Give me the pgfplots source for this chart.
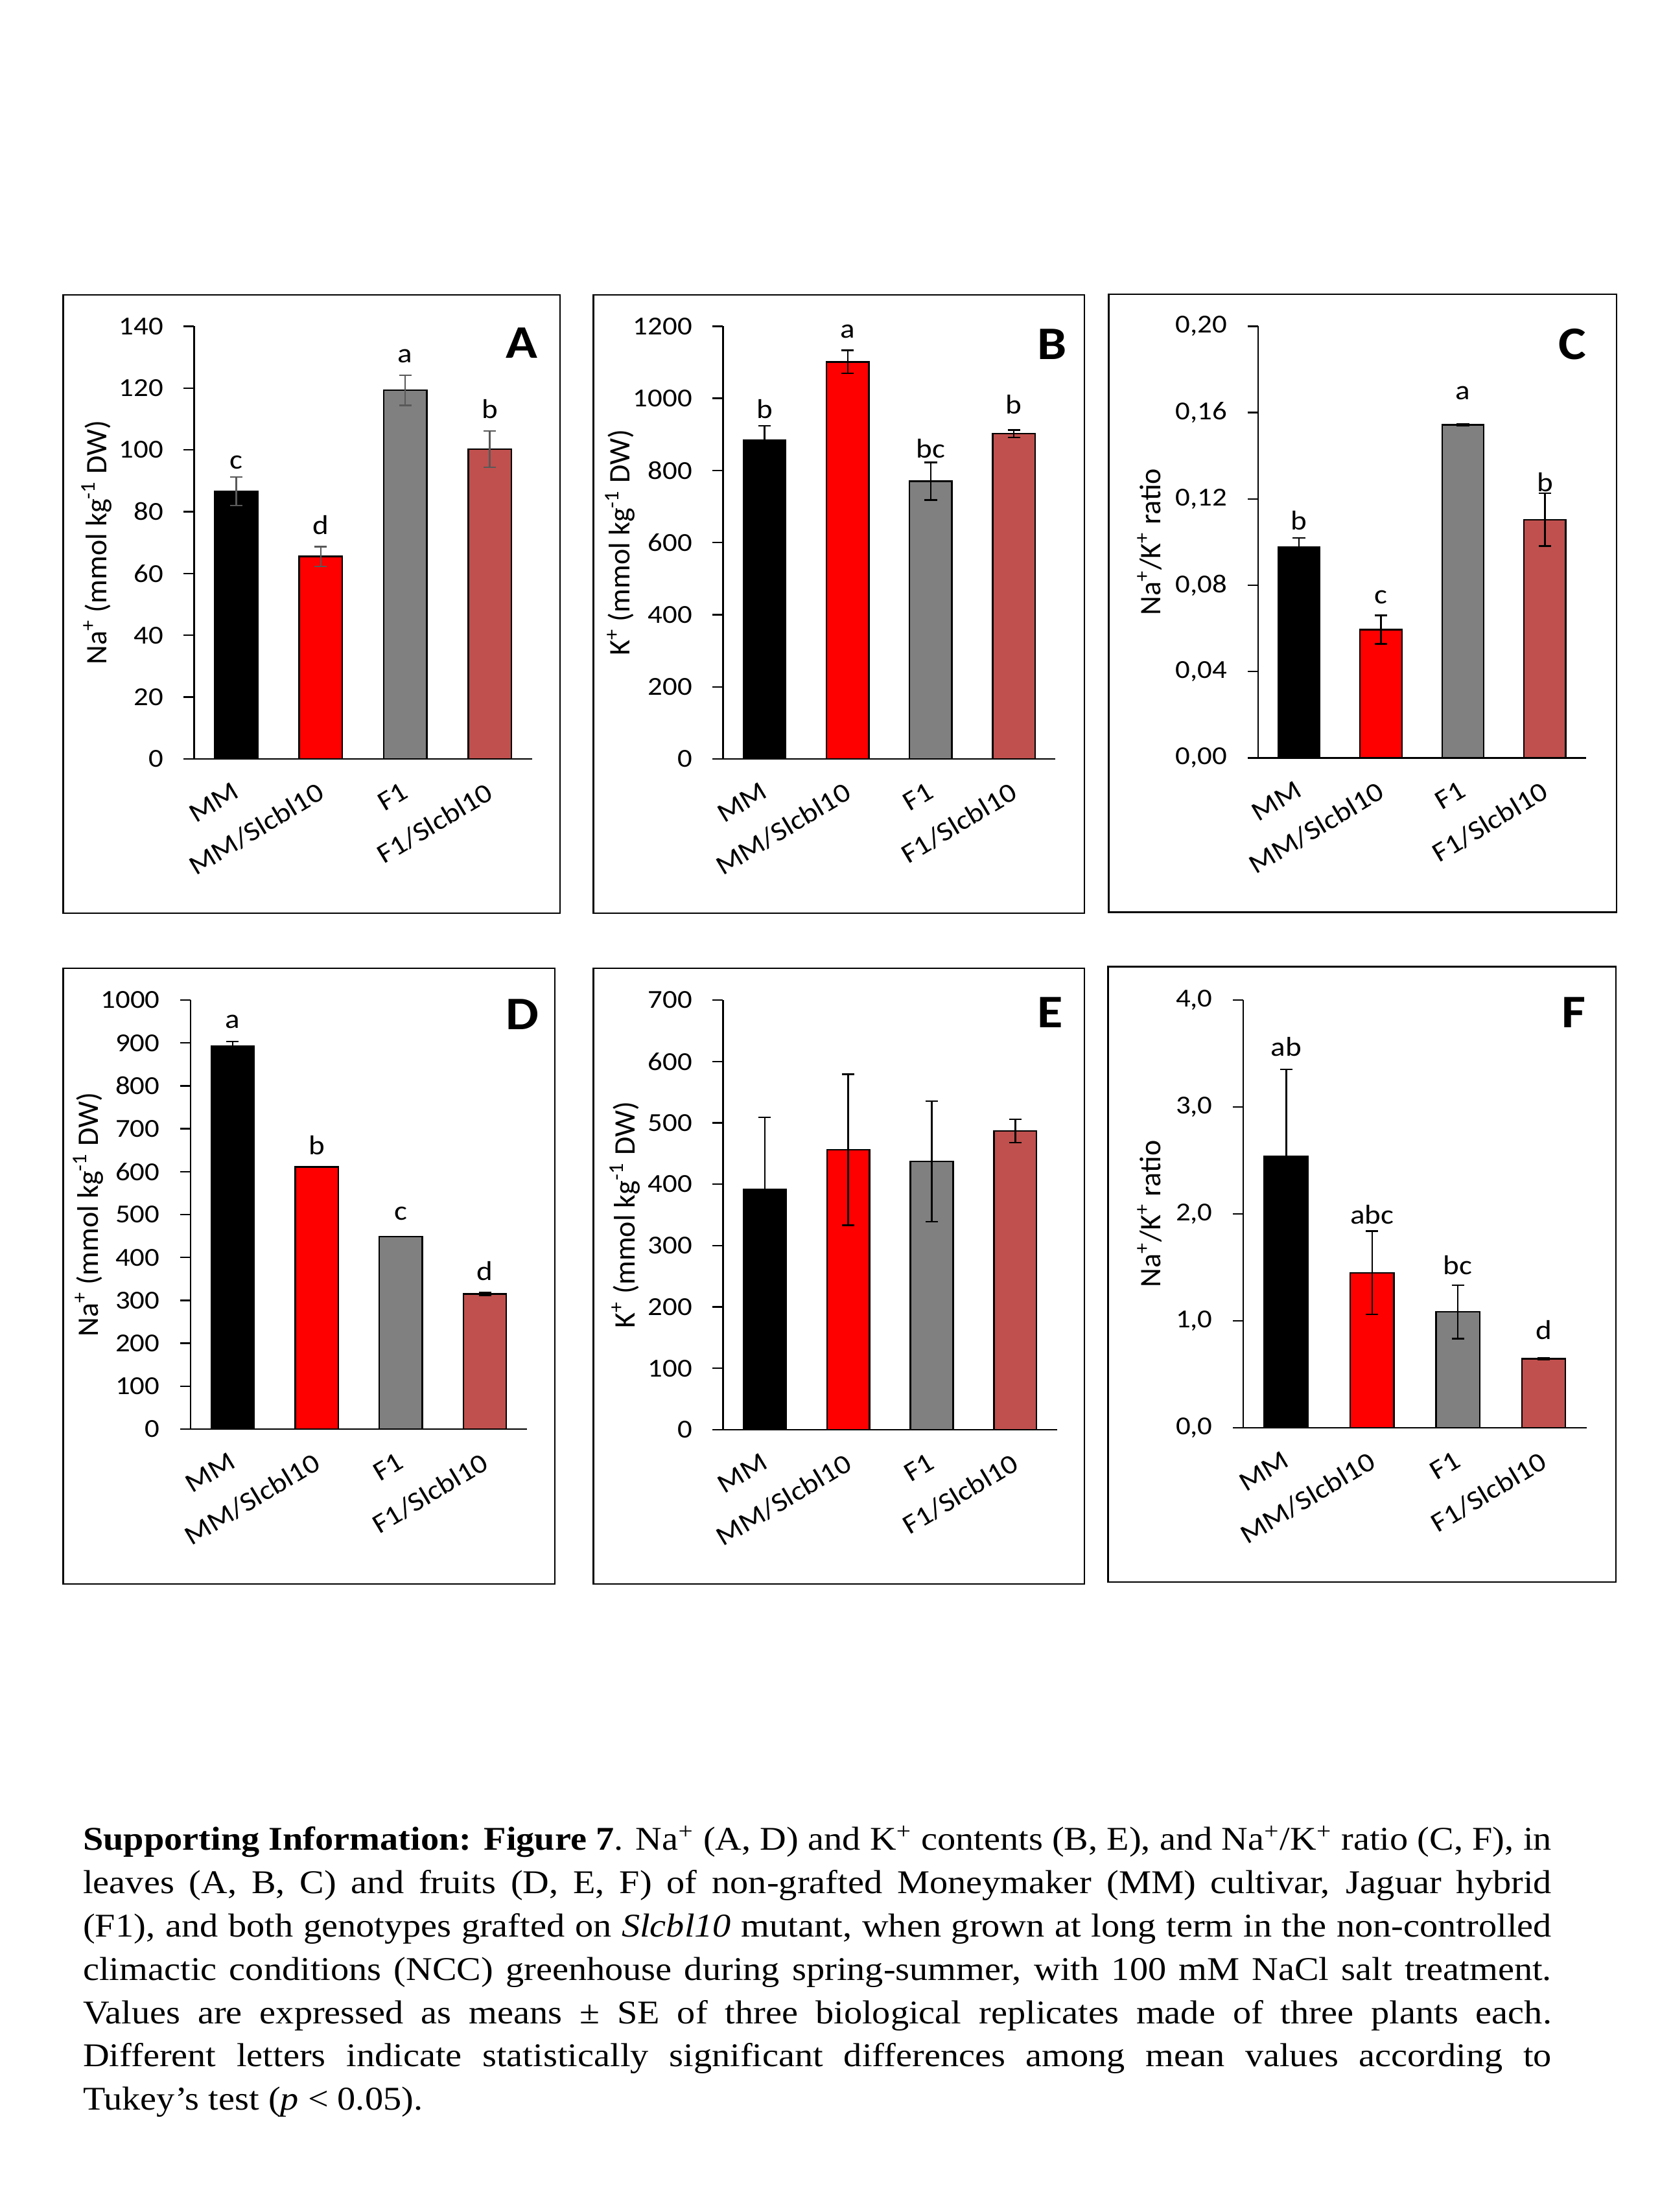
\documentclass[border=0pt]{standalone}
\usepackage{fontspec}
\setmainfont{Carlito}[FakeStretch=1.12]
\newfontfamily\plainfont{Carlito}
\newfontfamily\capfont{Liberation Serif}[FakeStretch=1.1]
\usepackage{pgfplots}
\pgfplotsset{compat=1.18}

\definecolor{barred}{HTML}{FF0000}
\definecolor{bargray}{HTML}{808080}
\definecolor{barbrown}{HTML}{C0504D}
\definecolor{errgray}{HTML}{595959}

\newcommand{\naplus}{Na\textsuperscript{+}}
\newcommand{\kplus}{K\textsuperscript{+}}

\pgfplotsset{
  panel/.style={
    scale only axis,
    axis x line=bottom, axis y line=left,
    axis line style={-, line width=0.6pt},
    tick align=outside, ytick pos=left,
    major tick length=4pt,
    every tick/.style={black, line width=0.6pt},
    xmin=-0.5, xmax=3.5, ymin=0,
    xtick={0,1,2,3},
    xticklabels={MM,MM/Slcbl10,F1,F1/Slcbl10},
    x tick style={draw=none},
    xticklabel style={font=\fontsize{10.5}{12}\selectfont, anchor=north east,
      inner sep=0pt, xshift=-1.7pt, yshift=-4.4pt, rotate=31},
    yticklabel style={font=\fontsize{10}{12}\selectfont, inner sep=0pt, xshift=-7.7pt},
    /pgf/number format/assume math mode=true,
    /pgf/number format/1000 sep={},
    ylabel style={font=\plainfont\fontsize{11.5}{13}\selectfont, anchor=center},
    clip=false,
  },
  bar/.style={ybar, bar shift=0pt, bar width=0.51, draw=black, line width=0.6pt, fill=#1,
    /pgfplots/error bars/y dir=both, /pgfplots/error bars/y explicit,
    /pgfplots/error bars/error mark=-,
    /pgfplots/error bars/error bar style={line width=0.6pt, black},
    /pgfplots/error bars/error mark options={rotate=90, mark size=2.4pt, line width=0.6pt, black}},
  greyerr/.style={/pgfplots/error bars/error bar style={line width=0.6pt, errgray},
    /pgfplots/error bars/error mark options={rotate=90, mark size=2.4pt, line width=0.6pt, errgray}},
  letters/.style={draw=none, mark=none, nodes near coords, point meta=explicit symbolic,
    every node near coord/.append style={font=\fontsize{10.5}{12}\selectfont,
      inner sep=0pt, anchor=center, black}},
}

\begin{document}
\begin{tikzpicture}
\useasboundingbox (0,0) rectangle (640pt,853.25pt);

% frames
\draw[line width=0.6pt] (24.4pt,501pt) rectangle (216pt,739.5pt);
\draw[line width=0.6pt] (228.85pt,501pt) rectangle (418.3pt,739.5pt);
\draw[line width=0.6pt] (427.6pt,501.4pt) rectangle (623.5pt,739.8pt);
\draw[line width=0.6pt] (24.4pt,242.25pt) rectangle (214pt,479.75pt);
\draw[line width=0.6pt] (228.85pt,242.25pt) rectangle (418.3pt,479.8pt);
\draw[line width=0.6pt] (427.4pt,243pt) rectangle (623.2pt,480.4pt);

% A: Na+ leaves
\begin{axis}[panel, at={(74.83pt,560.5pt)}, anchor=south west,
  width=130.35pt, height=166.9pt, ymax=140, ytick={0,20,...,140},
  ylabel={\naplus{} (mmol kg\textsuperscript{-1} DW)},
  ylabel style={at={(axis description cs:-0.2885,0.5)}}]
\addplot[bar=black, greyerr] coordinates {(0,86.6) +- (0,4.6)};
\addplot[bar=barred, greyerr] coordinates {(1,65.5) +- (0,3.2)};
\addplot[bar=bargray, greyerr] coordinates {(2,119.3) +- (0,4.9)};
\addplot[bar=barbrown, greyerr] coordinates {(3,100.2) +- (0,5.9)};
\addplot[letters] coordinates {(0,96.0) [c] (1,75.6) [d] (2,130.3) [a] (3,113.3) [b]};
\end{axis}

% B: K+ leaves
\begin{axis}[panel, at={(278.85pt,560.5pt)}, anchor=south west,
  width=128.2pt, height=166.9pt, ymax=1200, ytick={0,200,...,1200},
  ylabel={\kplus{} (mmol kg\textsuperscript{-1} DW)},
  ylabel style={at={(axis description cs:-0.310,0.5)}}]
\addplot[bar=black] coordinates {(0,884) +- (0,40)};
\addplot[bar=barred] coordinates {(1,1101) +- (0,32)};
\addplot[bar=bargray] coordinates {(2,770) +- (0,52)};
\addplot[bar=barbrown] coordinates {(3,902) +- (0,10)};
\addplot[letters] coordinates {(0,971) [b] (1,1185) [a] (2,861) [bc] (3,983) [b]};
\end{axis}

% C: Na+/K+ leaves
\begin{axis}[panel, at={(485.2pt,560.9pt)}, anchor=south west,
  width=126.45pt, height=166.5pt, ymax=0.2, ytick={0,0.04,0.08,0.12,0.16,0.2},
  yticklabel style={/pgf/number format/.cd, fixed, fixed zerofill, precision=2, use comma},
  ylabel={\naplus/\kplus{} ratio},
  ylabel style={at={(axis description cs:-0.3306,0.5)}}]
\addplot[bar=black] coordinates {(0,0.0976) +- (0,0.0043)};
\addplot[bar=barred] coordinates {(1,0.0594) +- (0,0.0066)};
\addplot[bar=bargray] coordinates {(2,0.1543) +- (0,0.0003)};
\addplot[bar=barbrown] coordinates {(3,0.1104) +- (0,0.0123)};
\addplot[letters] coordinates {(0,0.110) [b] (1,0.0745) [c] (2,0.1689) [a] (3,0.1277) [b]};
\end{axis}

% D: Na+ fruits
\begin{axis}[panel, at={(73.5pt,302pt)}, anchor=south west,
  width=129.75pt, height=165.5pt, ymax=1000, ytick={0,100,...,1000},
  ylabel={\naplus{} (mmol kg\textsuperscript{-1} DW)},
  ylabel style={at={(axis description cs:-0.3044,0.5)}}]
\addplot[bar=black] coordinates {(0,893) +- (0,10)};
\addplot[bar=barred] coordinates {(1,611) +- (0,0)};
\addplot[bar=bargray] coordinates {(2,449) +- (0,0)};
\addplot[bar=barbrown] coordinates {(3,315) +- (0,4)};
\addplot[letters] coordinates {(0,949) [a] (1,661) [b] (2,502) [c] (3,368) [d]};
\end{axis}

% E: K+ fruits
\begin{axis}[panel, at={(278.85pt,301.75pt)}, anchor=south west,
  width=128.85pt, height=165.75pt, ymax=700, ytick={0,100,...,700},
  ylabel={\kplus{} (mmol kg\textsuperscript{-1} DW)},
  ylabel style={at={(axis description cs:-0.2938,0.5)}}]
\addplot[bar=black] coordinates {(0,391) +- (0,118)};
\addplot[bar=barred] coordinates {(1,456) +- (0,123)};
\addplot[bar=bargray] coordinates {(2,437) +- (0,98)};
\addplot[bar=barbrown] coordinates {(3,487) +- (0,19)};
\end{axis}

% F: Na+/K+ fruits
\begin{axis}[panel, at={(479.55pt,302.5pt)}, anchor=south west,
  width=132.35pt, height=165pt, ymax=4, ytick={0,1,2,3,4},
  yticklabel style={/pgf/number format/.cd, fixed, fixed zerofill, precision=1, use comma},
  ylabel={\naplus/\kplus{} ratio},
  ylabel style={at={(axis description cs:-0.2731,0.5)}}]
\addplot[bar=black] coordinates {(0,2.54) +- (0,0.81)};
\addplot[bar=barred] coordinates {(1,1.449) +- (0,0.39)};
\addplot[bar=bargray] coordinates {(2,1.084) +- (0,0.25)};
\addplot[bar=barbrown] coordinates {(3,0.646) +- (0,0.01)};
\addplot[letters] coordinates {(0,3.566) [ab] (1,1.996) [abc] (2,1.521) [bc] (3,0.913) [d]};
\end{axis}

% panel letters
\begin{scope}[every node/.style={font=\bfseries\fontsize{18}{18}\selectfont, inner sep=0pt}]
\node at (201.25pt,721pt) {A};
\node at (405.75pt,720.5pt) {B};
\node at (606.4pt,720.5pt) {C};
\node at (201.6pt,462pt) {D};
\node at (405.1pt,462.8pt) {E};
\node at (607pt,462.8pt) {F};
\end{scope}

% caption
\node[anchor=base west, inner sep=0pt] at (31.85pt,139.5pt) {\parbox[t]{566.4pt}{%
\capfont\fontsize{12.8}{16.7}\selectfont
\makebox[\linewidth][s]{\textbf{Supporting Information: Figure 7}. \naplus{} (A, D) and \kplus{} contents (B, E), and \naplus/\kplus{} ratio (C, F), in}\\
\makebox[\linewidth][s]{leaves (A, B, C) and fruits (D, E, F) of non-grafted Moneymaker (MM) cultivar, Jaguar hybrid}\\
\makebox[\linewidth][s]{(F1), and both genotypes grafted on \textit{Slcbl10} mutant, when grown at long term in the non-controlled}\\
\makebox[\linewidth][s]{climactic conditions (NCC) greenhouse during spring-summer, with 100 mM NaCl salt treatment.}\\
\makebox[\linewidth][s]{Values are expressed as means ± SE of three biological replicates made of three plants each.}\\
\makebox[\linewidth][s]{Different letters indicate statistically significant differences among mean values according to}\\
Tukey’s test (\textit{p} < 0.05).}};
\end{tikzpicture}
\end{document}
